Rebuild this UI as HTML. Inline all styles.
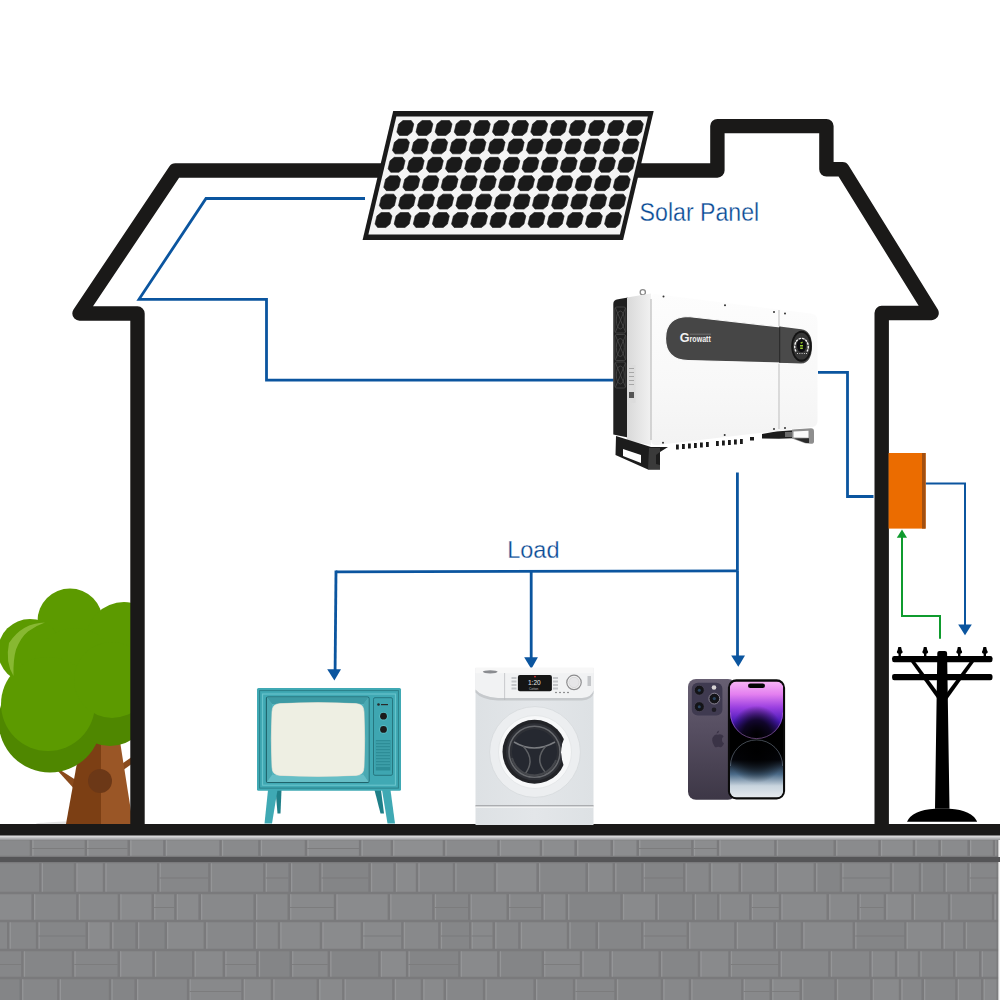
<!DOCTYPE html>
<html><head><meta charset="utf-8">
<style>
html,body{margin:0;padding:0;background:#fff;width:1000px;height:1000px;overflow:hidden}
svg{display:block}
text{font-family:"Liberation Sans",sans-serif}
</style></head>
<body>
<svg width="1000" height="1000" viewBox="0 0 1000 1000">
<defs>
<linearGradient id="invSide" x1="0" y1="0" x2="1" y2="0"><stop offset="0" stop-color="#d9d9d9"/><stop offset="1" stop-color="#f1f1f1"/></linearGradient>
<linearGradient id="invFront" x1="0" y1="0" x2="0" y2="1"><stop offset="0" stop-color="#fdfdfd"/><stop offset="0.6" stop-color="#f8f8f8"/><stop offset="1" stop-color="#f3f3f3"/></linearGradient>
<linearGradient id="wBody" x1="0" y1="0" x2="1" y2="0"><stop offset="0" stop-color="#dde1e4"/><stop offset="0.5" stop-color="#e3e6e9"/><stop offset="1" stop-color="#dde1e4"/></linearGradient>
<linearGradient id="phBack" x1="0" y1="0" x2="0" y2="1"><stop offset="0" stop-color="#675f72"/><stop offset="0.45" stop-color="#554d60"/><stop offset="1" stop-color="#3d3746"/></linearGradient>
<linearGradient id="scrTop" x1="0" y1="0" x2="0" y2="1"><stop offset="0" stop-color="#f8b4f6"/><stop offset="0.22" stop-color="#e480f0"/><stop offset="0.45" stop-color="#9a40e0"/><stop offset="0.7" stop-color="#4818b8"/><stop offset="1" stop-color="#100530"/></linearGradient>
<radialGradient id="scrTopR" cx="0.5" cy="0.92" r="0.5"><stop offset="0" stop-color="#000" stop-opacity="1"/><stop offset="0.5" stop-color="#000" stop-opacity="0.75"/><stop offset="1" stop-color="#000" stop-opacity="0"/></radialGradient>
<linearGradient id="scrBot" x1="0" y1="0" x2="0" y2="1"><stop offset="0" stop-color="#000"/><stop offset="0.35" stop-color="#05060c"/><stop offset="0.6" stop-color="#4a6a88"/><stop offset="0.8" stop-color="#c8d4de"/><stop offset="1" stop-color="#e6eaee"/></linearGradient>
<radialGradient id="scrBotR" cx="0.5" cy="0.2" r="0.55"><stop offset="0" stop-color="#000" stop-opacity="1"/><stop offset="0.6" stop-color="#000" stop-opacity="0.5"/><stop offset="1" stop-color="#000" stop-opacity="0"/></radialGradient>
<linearGradient id="wallTop" x1="0" y1="0" x2="0" y2="1"><stop offset="0" stop-color="#ececec"/><stop offset="0.4" stop-color="#d0d0d2"/><stop offset="1" stop-color="#949597"/></linearGradient>
<filter id="wblur" x="0" y="0" width="1" height="1"><feGaussianBlur stdDeviation="0.7"/></filter>
</defs>
<rect width="1000" height="1000" fill="#fff"/>

<!-- STONE WALL -->
<g id="wall">
<rect x="0" y="835" width="1000" height="165" fill="#7a7a7c"/>
<g filter="url(#wblur)"><rect x="-12.3" y="840.3" width="42.0" height="15.4" fill="#898a8c"/><rect x="-12.3" y="840.3" width="1.3" height="15.4" fill="#98999b"/><rect x="32.3" y="840.3" width="52.3" height="15.4" fill="#8a8b8d"/><rect x="32.3" y="840.3" width="1.3" height="15.4" fill="#98999b"/><rect x="32.3" y="848.0" width="52.3" height="1" fill="#7b7b7d"/><rect x="87.2" y="840.3" width="40.3" height="15.4" fill="#8a8b8d"/><rect x="87.2" y="840.3" width="1.3" height="15.4" fill="#98999b"/><rect x="87.2" y="848.0" width="40.3" height="1" fill="#7b7b7d"/><rect x="130.2" y="840.3" width="33.0" height="15.4" fill="#8c8d8f"/><rect x="130.2" y="840.3" width="1.3" height="15.4" fill="#98999b"/><rect x="165.8" y="840.3" width="53.6" height="15.4" fill="#8c8d8f"/><rect x="165.8" y="840.3" width="1.3" height="15.4" fill="#98999b"/><rect x="221.9" y="840.3" width="36.3" height="15.4" fill="#898a8c"/><rect x="221.9" y="840.3" width="1.3" height="15.4" fill="#98999b"/><rect x="260.8" y="840.3" width="43.9" height="15.4" fill="#8a8b8d"/><rect x="260.8" y="840.3" width="1.3" height="15.4" fill="#98999b"/><rect x="307.4" y="840.3" width="51.5" height="15.4" fill="#8c8d8f"/><rect x="307.4" y="840.3" width="1.3" height="15.4" fill="#98999b"/><rect x="307.4" y="848.0" width="51.5" height="1" fill="#7b7b7d"/><rect x="361.5" y="840.3" width="29.1" height="15.4" fill="#8a8b8d"/><rect x="361.5" y="840.3" width="1.3" height="15.4" fill="#98999b"/><rect x="393.1" y="840.3" width="49.6" height="15.4" fill="#8e8f91"/><rect x="393.1" y="840.3" width="1.3" height="15.4" fill="#98999b"/><rect x="445.4" y="840.3" width="51.9" height="15.4" fill="#8a8b8d"/><rect x="445.4" y="840.3" width="1.3" height="15.4" fill="#98999b"/><rect x="499.8" y="840.3" width="39.9" height="15.4" fill="#8c8d8f"/><rect x="499.8" y="840.3" width="1.3" height="15.4" fill="#98999b"/><rect x="542.3" y="840.3" width="32.1" height="15.4" fill="#8c8d8f"/><rect x="542.3" y="840.3" width="1.3" height="15.4" fill="#98999b"/><rect x="577.1" y="840.3" width="33.4" height="15.4" fill="#8a8b8d"/><rect x="577.1" y="840.3" width="1.3" height="15.4" fill="#98999b"/><rect x="613.1" y="840.3" width="23.4" height="15.4" fill="#8c8d8f"/><rect x="613.1" y="840.3" width="1.3" height="15.4" fill="#98999b"/><rect x="639.1" y="840.3" width="52.0" height="15.4" fill="#898a8c"/><rect x="639.1" y="840.3" width="1.3" height="15.4" fill="#98999b"/><rect x="639.1" y="848.0" width="52.0" height="1" fill="#7b7b7d"/><rect x="693.8" y="840.3" width="23.0" height="15.4" fill="#8c8d8f"/><rect x="693.8" y="840.3" width="1.3" height="15.4" fill="#98999b"/><rect x="693.8" y="848.0" width="23.0" height="1" fill="#7b7b7d"/><rect x="719.4" y="840.3" width="54.8" height="15.4" fill="#8c8d8f"/><rect x="719.4" y="840.3" width="1.3" height="15.4" fill="#98999b"/><rect x="776.8" y="840.3" width="56.7" height="15.4" fill="#898a8c"/><rect x="776.8" y="840.3" width="1.3" height="15.4" fill="#98999b"/><rect x="836.1" y="840.3" width="42.2" height="15.4" fill="#8a8b8d"/><rect x="836.1" y="840.3" width="1.3" height="15.4" fill="#98999b"/><rect x="880.9" y="840.3" width="31.8" height="15.4" fill="#8c8d8f"/><rect x="880.9" y="840.3" width="1.3" height="15.4" fill="#98999b"/><rect x="915.4" y="840.3" width="22.9" height="15.4" fill="#898a8c"/><rect x="915.4" y="840.3" width="1.3" height="15.4" fill="#98999b"/><rect x="940.9" y="840.3" width="26.5" height="15.4" fill="#8a8b8d"/><rect x="940.9" y="840.3" width="1.3" height="15.4" fill="#98999b"/><rect x="970.0" y="840.3" width="22.8" height="15.4" fill="#898a8c"/><rect x="970.0" y="840.3" width="1.3" height="15.4" fill="#98999b"/><rect x="995.4" y="840.3" width="28.6" height="15.4" fill="#8a8b8d"/><rect x="995.4" y="840.3" width="1.3" height="15.4" fill="#98999b"/><rect x="-4.4" y="863.3" width="43.6" height="28.4" fill="#868789"/><rect x="-4.4" y="863.3" width="1.3" height="28.4" fill="#949597"/><rect x="41.7" y="863.3" width="32.1" height="28.4" fill="#848587"/><rect x="41.7" y="863.3" width="1.3" height="28.4" fill="#949597"/><rect x="76.4" y="863.3" width="26.4" height="28.4" fill="#8a8b8d"/><rect x="76.4" y="863.3" width="1.3" height="28.4" fill="#949597"/><rect x="105.4" y="863.3" width="51.6" height="28.4" fill="#87888a"/><rect x="105.4" y="863.3" width="1.3" height="28.4" fill="#949597"/><rect x="159.6" y="863.3" width="48.6" height="28.4" fill="#868789"/><rect x="159.6" y="863.3" width="1.3" height="28.4" fill="#949597"/><rect x="159.6" y="877.5" width="48.6" height="1" fill="#7b7b7d"/><rect x="210.8" y="863.3" width="52.3" height="28.4" fill="#87888a"/><rect x="210.8" y="863.3" width="1.3" height="28.4" fill="#949597"/><rect x="265.7" y="863.3" width="22.7" height="28.4" fill="#868789"/><rect x="265.7" y="863.3" width="1.3" height="28.4" fill="#949597"/><rect x="265.7" y="877.5" width="22.7" height="1" fill="#7b7b7d"/><rect x="291.0" y="863.3" width="27.9" height="28.4" fill="#858688"/><rect x="291.0" y="863.3" width="1.3" height="28.4" fill="#949597"/><rect x="321.5" y="863.3" width="46.8" height="28.4" fill="#848587"/><rect x="321.5" y="863.3" width="1.3" height="28.4" fill="#949597"/><rect x="321.5" y="877.5" width="46.8" height="1" fill="#7b7b7d"/><rect x="370.9" y="863.3" width="22.4" height="28.4" fill="#87888a"/><rect x="370.9" y="863.3" width="1.3" height="28.4" fill="#949597"/><rect x="395.9" y="863.3" width="19.9" height="28.4" fill="#8a8b8d"/><rect x="395.9" y="863.3" width="1.3" height="28.4" fill="#949597"/><rect x="418.4" y="863.3" width="34.4" height="28.4" fill="#87888a"/><rect x="418.4" y="863.3" width="1.3" height="28.4" fill="#949597"/><rect x="455.3" y="863.3" width="38.4" height="28.4" fill="#858688"/><rect x="455.3" y="863.3" width="1.3" height="28.4" fill="#949597"/><rect x="496.3" y="863.3" width="40.1" height="28.4" fill="#8a8b8d"/><rect x="496.3" y="863.3" width="1.3" height="28.4" fill="#949597"/><rect x="539.0" y="863.3" width="46.4" height="28.4" fill="#868789"/><rect x="539.0" y="863.3" width="1.3" height="28.4" fill="#949597"/><rect x="588.0" y="863.3" width="24.6" height="28.4" fill="#898a8c"/><rect x="588.0" y="863.3" width="1.3" height="28.4" fill="#949597"/><rect x="615.2" y="863.3" width="25.9" height="28.4" fill="#848587"/><rect x="615.2" y="863.3" width="1.3" height="28.4" fill="#949597"/><rect x="643.7" y="863.3" width="39.3" height="28.4" fill="#848587"/><rect x="643.7" y="863.3" width="1.3" height="28.4" fill="#949597"/><rect x="643.7" y="877.5" width="39.3" height="1" fill="#7b7b7d"/><rect x="685.6" y="863.3" width="23.0" height="28.4" fill="#87888a"/><rect x="685.6" y="863.3" width="1.3" height="28.4" fill="#949597"/><rect x="711.2" y="863.3" width="27.3" height="28.4" fill="#898a8c"/><rect x="711.2" y="863.3" width="1.3" height="28.4" fill="#949597"/><rect x="741.1" y="863.3" width="33.3" height="28.4" fill="#87888a"/><rect x="741.1" y="863.3" width="1.3" height="28.4" fill="#949597"/><rect x="777.0" y="863.3" width="36.6" height="28.4" fill="#898a8c"/><rect x="777.0" y="863.3" width="1.3" height="28.4" fill="#949597"/><rect x="816.1" y="863.3" width="23.6" height="28.4" fill="#848587"/><rect x="816.1" y="863.3" width="1.3" height="28.4" fill="#949597"/><rect x="842.3" y="863.3" width="47.5" height="28.4" fill="#87888a"/><rect x="842.3" y="863.3" width="1.3" height="28.4" fill="#949597"/><rect x="842.3" y="877.5" width="47.5" height="1" fill="#7b7b7d"/><rect x="892.4" y="863.3" width="26.4" height="28.4" fill="#868789"/><rect x="892.4" y="863.3" width="1.3" height="28.4" fill="#949597"/><rect x="921.4" y="863.3" width="21.7" height="28.4" fill="#848587"/><rect x="921.4" y="863.3" width="1.3" height="28.4" fill="#949597"/><rect x="945.7" y="863.3" width="21.4" height="28.4" fill="#868789"/><rect x="945.7" y="863.3" width="1.3" height="28.4" fill="#949597"/><rect x="969.7" y="863.3" width="36.9" height="28.4" fill="#868789"/><rect x="969.7" y="863.3" width="1.3" height="28.4" fill="#949597"/><rect x="969.7" y="877.5" width="36.9" height="1" fill="#7b7b7d"/><rect x="-2.9" y="894.3" width="34.3" height="25.4" fill="#8a8b8d"/><rect x="-2.9" y="894.3" width="1.3" height="25.4" fill="#949597"/><rect x="34.0" y="894.3" width="42.2" height="25.4" fill="#87888a"/><rect x="34.0" y="894.3" width="1.3" height="25.4" fill="#949597"/><rect x="78.8" y="894.3" width="38.9" height="25.4" fill="#88898b"/><rect x="78.8" y="894.3" width="1.3" height="25.4" fill="#949597"/><rect x="120.3" y="894.3" width="31.2" height="25.4" fill="#8a8b8d"/><rect x="120.3" y="894.3" width="1.3" height="25.4" fill="#949597"/><rect x="154.1" y="894.3" width="20.1" height="25.4" fill="#898a8c"/><rect x="154.1" y="894.3" width="1.3" height="25.4" fill="#949597"/><rect x="154.1" y="907.0" width="20.1" height="1" fill="#7b7b7d"/><rect x="176.8" y="894.3" width="21.6" height="25.4" fill="#8a8b8d"/><rect x="176.8" y="894.3" width="1.3" height="25.4" fill="#949597"/><rect x="201.0" y="894.3" width="52.4" height="25.4" fill="#88898b"/><rect x="201.0" y="894.3" width="1.3" height="25.4" fill="#949597"/><rect x="256.0" y="894.3" width="31.5" height="25.4" fill="#88898b"/><rect x="256.0" y="894.3" width="1.3" height="25.4" fill="#949597"/><rect x="290.1" y="894.3" width="43.7" height="25.4" fill="#898a8c"/><rect x="290.1" y="894.3" width="1.3" height="25.4" fill="#949597"/><rect x="290.1" y="907.0" width="43.7" height="1" fill="#7b7b7d"/><rect x="336.4" y="894.3" width="51.2" height="25.4" fill="#8a8b8d"/><rect x="336.4" y="894.3" width="1.3" height="25.4" fill="#949597"/><rect x="390.2" y="894.3" width="42.0" height="25.4" fill="#88898b"/><rect x="390.2" y="894.3" width="1.3" height="25.4" fill="#949597"/><rect x="434.8" y="894.3" width="33.2" height="25.4" fill="#858688"/><rect x="434.8" y="894.3" width="1.3" height="25.4" fill="#949597"/><rect x="434.8" y="907.0" width="33.2" height="1" fill="#7b7b7d"/><rect x="470.6" y="894.3" width="35.9" height="25.4" fill="#88898b"/><rect x="470.6" y="894.3" width="1.3" height="25.4" fill="#949597"/><rect x="509.1" y="894.3" width="32.0" height="25.4" fill="#87888a"/><rect x="509.1" y="894.3" width="1.3" height="25.4" fill="#949597"/><rect x="509.1" y="907.0" width="32.0" height="1" fill="#7b7b7d"/><rect x="543.7" y="894.3" width="21.8" height="25.4" fill="#88898b"/><rect x="543.7" y="894.3" width="1.3" height="25.4" fill="#949597"/><rect x="568.1" y="894.3" width="52.2" height="25.4" fill="#848587"/><rect x="568.1" y="894.3" width="1.3" height="25.4" fill="#949597"/><rect x="622.9" y="894.3" width="32.2" height="25.4" fill="#898a8c"/><rect x="622.9" y="894.3" width="1.3" height="25.4" fill="#949597"/><rect x="657.7" y="894.3" width="34.5" height="25.4" fill="#848587"/><rect x="657.7" y="894.3" width="1.3" height="25.4" fill="#949597"/><rect x="694.8" y="894.3" width="22.2" height="25.4" fill="#858688"/><rect x="694.8" y="894.3" width="1.3" height="25.4" fill="#949597"/><rect x="719.6" y="894.3" width="29.6" height="25.4" fill="#88898b"/><rect x="719.6" y="894.3" width="1.3" height="25.4" fill="#949597"/><rect x="751.8" y="894.3" width="27.0" height="25.4" fill="#898a8c"/><rect x="751.8" y="894.3" width="1.3" height="25.4" fill="#949597"/><rect x="751.8" y="907.0" width="27.0" height="1" fill="#7b7b7d"/><rect x="781.4" y="894.3" width="45.1" height="25.4" fill="#898a8c"/><rect x="781.4" y="894.3" width="1.3" height="25.4" fill="#949597"/><rect x="829.2" y="894.3" width="27.8" height="25.4" fill="#88898b"/><rect x="829.2" y="894.3" width="1.3" height="25.4" fill="#949597"/><rect x="859.6" y="894.3" width="24.1" height="25.4" fill="#87888a"/><rect x="859.6" y="894.3" width="1.3" height="25.4" fill="#949597"/><rect x="859.6" y="907.0" width="24.1" height="1" fill="#7b7b7d"/><rect x="886.3" y="894.3" width="25.0" height="25.4" fill="#8a8b8d"/><rect x="886.3" y="894.3" width="1.3" height="25.4" fill="#949597"/><rect x="913.9" y="894.3" width="34.0" height="25.4" fill="#868789"/><rect x="913.9" y="894.3" width="1.3" height="25.4" fill="#949597"/><rect x="950.5" y="894.3" width="41.4" height="25.4" fill="#868789"/><rect x="950.5" y="894.3" width="1.3" height="25.4" fill="#949597"/><rect x="994.5" y="894.3" width="45.9" height="25.4" fill="#858688"/><rect x="994.5" y="894.3" width="1.3" height="25.4" fill="#949597"/><rect x="-25.1" y="922.3" width="32.1" height="26.4" fill="#87888a"/><rect x="-25.1" y="922.3" width="1.3" height="26.4" fill="#949597"/><rect x="9.6" y="922.3" width="26.3" height="26.4" fill="#868789"/><rect x="9.6" y="922.3" width="1.3" height="26.4" fill="#949597"/><rect x="38.5" y="922.3" width="47.0" height="26.4" fill="#858688"/><rect x="38.5" y="922.3" width="1.3" height="26.4" fill="#949597"/><rect x="38.5" y="935.5" width="47.0" height="1" fill="#7b7b7d"/><rect x="88.1" y="922.3" width="21.5" height="26.4" fill="#8a8b8d"/><rect x="88.1" y="922.3" width="1.3" height="26.4" fill="#949597"/><rect x="112.2" y="922.3" width="23.1" height="26.4" fill="#848587"/><rect x="112.2" y="922.3" width="1.3" height="26.4" fill="#949597"/><rect x="138.0" y="922.3" width="26.5" height="26.4" fill="#848587"/><rect x="138.0" y="922.3" width="1.3" height="26.4" fill="#949597"/><rect x="167.0" y="922.3" width="36.6" height="26.4" fill="#898a8c"/><rect x="167.0" y="922.3" width="1.3" height="26.4" fill="#949597"/><rect x="206.2" y="922.3" width="47.1" height="26.4" fill="#87888a"/><rect x="206.2" y="922.3" width="1.3" height="26.4" fill="#949597"/><rect x="255.9" y="922.3" width="21.9" height="26.4" fill="#88898b"/><rect x="255.9" y="922.3" width="1.3" height="26.4" fill="#949597"/><rect x="280.3" y="922.3" width="39.4" height="26.4" fill="#898a8c"/><rect x="280.3" y="922.3" width="1.3" height="26.4" fill="#949597"/><rect x="322.4" y="922.3" width="38.2" height="26.4" fill="#8a8b8d"/><rect x="322.4" y="922.3" width="1.3" height="26.4" fill="#949597"/><rect x="363.2" y="922.3" width="38.0" height="26.4" fill="#898a8c"/><rect x="363.2" y="922.3" width="1.3" height="26.4" fill="#949597"/><rect x="363.2" y="935.5" width="38.0" height="1" fill="#7b7b7d"/><rect x="403.8" y="922.3" width="34.4" height="26.4" fill="#88898b"/><rect x="403.8" y="922.3" width="1.3" height="26.4" fill="#949597"/><rect x="440.8" y="922.3" width="28.2" height="26.4" fill="#858688"/><rect x="440.8" y="922.3" width="1.3" height="26.4" fill="#949597"/><rect x="440.8" y="935.5" width="28.2" height="1" fill="#7b7b7d"/><rect x="471.6" y="922.3" width="20.9" height="26.4" fill="#898a8c"/><rect x="471.6" y="922.3" width="1.3" height="26.4" fill="#949597"/><rect x="471.6" y="935.5" width="20.9" height="1" fill="#7b7b7d"/><rect x="495.2" y="922.3" width="23.0" height="26.4" fill="#87888a"/><rect x="495.2" y="922.3" width="1.3" height="26.4" fill="#949597"/><rect x="520.8" y="922.3" width="46.0" height="26.4" fill="#88898b"/><rect x="520.8" y="922.3" width="1.3" height="26.4" fill="#949597"/><rect x="569.4" y="922.3" width="26.0" height="26.4" fill="#848587"/><rect x="569.4" y="922.3" width="1.3" height="26.4" fill="#949597"/><rect x="598.0" y="922.3" width="43.0" height="26.4" fill="#858688"/><rect x="598.0" y="922.3" width="1.3" height="26.4" fill="#949597"/><rect x="643.6" y="922.3" width="43.0" height="26.4" fill="#868789"/><rect x="643.6" y="922.3" width="1.3" height="26.4" fill="#949597"/><rect x="643.6" y="935.5" width="43.0" height="1" fill="#7b7b7d"/><rect x="689.1" y="922.3" width="45.1" height="26.4" fill="#87888a"/><rect x="689.1" y="922.3" width="1.3" height="26.4" fill="#949597"/><rect x="736.8" y="922.3" width="36.6" height="26.4" fill="#87888a"/><rect x="736.8" y="922.3" width="1.3" height="26.4" fill="#949597"/><rect x="776.0" y="922.3" width="24.7" height="26.4" fill="#858688"/><rect x="776.0" y="922.3" width="1.3" height="26.4" fill="#949597"/><rect x="803.3" y="922.3" width="49.3" height="26.4" fill="#88898b"/><rect x="803.3" y="922.3" width="1.3" height="26.4" fill="#949597"/><rect x="855.2" y="922.3" width="48.9" height="26.4" fill="#848587"/><rect x="855.2" y="922.3" width="1.3" height="26.4" fill="#949597"/><rect x="855.2" y="935.5" width="48.9" height="1" fill="#7b7b7d"/><rect x="906.6" y="922.3" width="34.4" height="26.4" fill="#898a8c"/><rect x="906.6" y="922.3" width="1.3" height="26.4" fill="#949597"/><rect x="943.6" y="922.3" width="19.6" height="26.4" fill="#87888a"/><rect x="943.6" y="922.3" width="1.3" height="26.4" fill="#949597"/><rect x="965.8" y="922.3" width="48.4" height="26.4" fill="#858688"/><rect x="965.8" y="922.3" width="1.3" height="26.4" fill="#949597"/><rect x="-9.0" y="951.3" width="30.2" height="25.4" fill="#868789"/><rect x="-9.0" y="951.3" width="1.3" height="25.4" fill="#949597"/><rect x="-9.0" y="964.0" width="30.2" height="1" fill="#7b7b7d"/><rect x="23.8" y="951.3" width="48.0" height="25.4" fill="#858688"/><rect x="23.8" y="951.3" width="1.3" height="25.4" fill="#949597"/><rect x="74.4" y="951.3" width="43.1" height="25.4" fill="#868789"/><rect x="74.4" y="951.3" width="1.3" height="25.4" fill="#949597"/><rect x="74.4" y="964.0" width="43.1" height="1" fill="#7b7b7d"/><rect x="120.0" y="951.3" width="32.3" height="25.4" fill="#88898b"/><rect x="120.0" y="951.3" width="1.3" height="25.4" fill="#949597"/><rect x="154.9" y="951.3" width="37.1" height="25.4" fill="#858688"/><rect x="154.9" y="951.3" width="1.3" height="25.4" fill="#949597"/><rect x="194.6" y="951.3" width="28.0" height="25.4" fill="#898a8c"/><rect x="194.6" y="951.3" width="1.3" height="25.4" fill="#949597"/><rect x="225.3" y="951.3" width="30.9" height="25.4" fill="#88898b"/><rect x="225.3" y="951.3" width="1.3" height="25.4" fill="#949597"/><rect x="225.3" y="964.0" width="30.9" height="1" fill="#7b7b7d"/><rect x="258.8" y="951.3" width="30.7" height="25.4" fill="#848587"/><rect x="258.8" y="951.3" width="1.3" height="25.4" fill="#949597"/><rect x="292.1" y="951.3" width="35.5" height="25.4" fill="#88898b"/><rect x="292.1" y="951.3" width="1.3" height="25.4" fill="#949597"/><rect x="292.1" y="964.0" width="35.5" height="1" fill="#7b7b7d"/><rect x="330.2" y="951.3" width="48.0" height="25.4" fill="#848587"/><rect x="330.2" y="951.3" width="1.3" height="25.4" fill="#949597"/><rect x="380.8" y="951.3" width="25.1" height="25.4" fill="#8a8b8d"/><rect x="380.8" y="951.3" width="1.3" height="25.4" fill="#949597"/><rect x="408.5" y="951.3" width="49.6" height="25.4" fill="#848587"/><rect x="408.5" y="951.3" width="1.3" height="25.4" fill="#949597"/><rect x="408.5" y="964.0" width="49.6" height="1" fill="#7b7b7d"/><rect x="460.7" y="951.3" width="36.4" height="25.4" fill="#898a8c"/><rect x="460.7" y="951.3" width="1.3" height="25.4" fill="#949597"/><rect x="499.8" y="951.3" width="41.8" height="25.4" fill="#848587"/><rect x="499.8" y="951.3" width="1.3" height="25.4" fill="#949597"/><rect x="544.1" y="951.3" width="35.7" height="25.4" fill="#898a8c"/><rect x="544.1" y="951.3" width="1.3" height="25.4" fill="#949597"/><rect x="544.1" y="964.0" width="35.7" height="1" fill="#7b7b7d"/><rect x="582.4" y="951.3" width="26.7" height="25.4" fill="#87888a"/><rect x="582.4" y="951.3" width="1.3" height="25.4" fill="#949597"/><rect x="611.7" y="951.3" width="46.8" height="25.4" fill="#87888a"/><rect x="611.7" y="951.3" width="1.3" height="25.4" fill="#949597"/><rect x="661.1" y="951.3" width="36.7" height="25.4" fill="#858688"/><rect x="661.1" y="951.3" width="1.3" height="25.4" fill="#949597"/><rect x="700.4" y="951.3" width="27.9" height="25.4" fill="#898a8c"/><rect x="700.4" y="951.3" width="1.3" height="25.4" fill="#949597"/><rect x="730.8" y="951.3" width="47.3" height="25.4" fill="#87888a"/><rect x="730.8" y="951.3" width="1.3" height="25.4" fill="#949597"/><rect x="730.8" y="964.0" width="47.3" height="1" fill="#7b7b7d"/><rect x="780.7" y="951.3" width="47.5" height="25.4" fill="#87888a"/><rect x="780.7" y="951.3" width="1.3" height="25.4" fill="#949597"/><rect x="830.8" y="951.3" width="38.3" height="25.4" fill="#868789"/><rect x="830.8" y="951.3" width="1.3" height="25.4" fill="#949597"/><rect x="871.7" y="951.3" width="23.2" height="25.4" fill="#88898b"/><rect x="871.7" y="951.3" width="1.3" height="25.4" fill="#949597"/><rect x="897.5" y="951.3" width="20.3" height="25.4" fill="#88898b"/><rect x="897.5" y="951.3" width="1.3" height="25.4" fill="#949597"/><rect x="920.4" y="951.3" width="32.6" height="25.4" fill="#858688"/><rect x="920.4" y="951.3" width="1.3" height="25.4" fill="#949597"/><rect x="955.6" y="951.3" width="23.4" height="25.4" fill="#88898b"/><rect x="955.6" y="951.3" width="1.3" height="25.4" fill="#949597"/><rect x="981.7" y="951.3" width="21.6" height="25.4" fill="#87888a"/><rect x="981.7" y="951.3" width="1.3" height="25.4" fill="#949597"/><rect x="-26.3" y="979.3" width="45.8" height="23.4" fill="#848587"/><rect x="-26.3" y="979.3" width="1.3" height="23.4" fill="#949597"/><rect x="22.1" y="979.3" width="35.0" height="23.4" fill="#868789"/><rect x="22.1" y="979.3" width="1.3" height="23.4" fill="#949597"/><rect x="59.7" y="979.3" width="49.1" height="23.4" fill="#848587"/><rect x="59.7" y="979.3" width="1.3" height="23.4" fill="#949597"/><rect x="111.4" y="979.3" width="23.0" height="23.4" fill="#848587"/><rect x="111.4" y="979.3" width="1.3" height="23.4" fill="#949597"/><rect x="137.0" y="979.3" width="49.9" height="23.4" fill="#868789"/><rect x="137.0" y="979.3" width="1.3" height="23.4" fill="#949597"/><rect x="189.6" y="979.3" width="51.7" height="23.4" fill="#88898b"/><rect x="189.6" y="979.3" width="1.3" height="23.4" fill="#949597"/><rect x="189.6" y="991.0" width="51.7" height="1" fill="#7b7b7d"/><rect x="243.8" y="979.3" width="26.9" height="23.4" fill="#898a8c"/><rect x="243.8" y="979.3" width="1.3" height="23.4" fill="#949597"/><rect x="273.3" y="979.3" width="43.3" height="23.4" fill="#868789"/><rect x="273.3" y="979.3" width="1.3" height="23.4" fill="#949597"/><rect x="319.2" y="979.3" width="22.9" height="23.4" fill="#898a8c"/><rect x="319.2" y="979.3" width="1.3" height="23.4" fill="#949597"/><rect x="344.6" y="979.3" width="47.5" height="23.4" fill="#87888a"/><rect x="344.6" y="979.3" width="1.3" height="23.4" fill="#949597"/><rect x="394.8" y="979.3" width="25.9" height="23.4" fill="#87888a"/><rect x="394.8" y="979.3" width="1.3" height="23.4" fill="#949597"/><rect x="423.3" y="979.3" width="20.2" height="23.4" fill="#898a8c"/><rect x="423.3" y="979.3" width="1.3" height="23.4" fill="#949597"/><rect x="446.0" y="979.3" width="36.9" height="23.4" fill="#868789"/><rect x="446.0" y="979.3" width="1.3" height="23.4" fill="#949597"/><rect x="485.5" y="979.3" width="47.9" height="23.4" fill="#87888a"/><rect x="485.5" y="979.3" width="1.3" height="23.4" fill="#949597"/><rect x="536.0" y="979.3" width="36.9" height="23.4" fill="#858688"/><rect x="536.0" y="979.3" width="1.3" height="23.4" fill="#949597"/><rect x="575.5" y="979.3" width="38.8" height="23.4" fill="#868789"/><rect x="575.5" y="979.3" width="1.3" height="23.4" fill="#949597"/><rect x="575.5" y="991.0" width="38.8" height="1" fill="#7b7b7d"/><rect x="616.9" y="979.3" width="43.8" height="23.4" fill="#858688"/><rect x="616.9" y="979.3" width="1.3" height="23.4" fill="#949597"/><rect x="663.3" y="979.3" width="25.4" height="23.4" fill="#87888a"/><rect x="663.3" y="979.3" width="1.3" height="23.4" fill="#949597"/><rect x="691.3" y="979.3" width="49.9" height="23.4" fill="#868789"/><rect x="691.3" y="979.3" width="1.3" height="23.4" fill="#949597"/><rect x="743.7" y="979.3" width="25.8" height="23.4" fill="#88898b"/><rect x="743.7" y="979.3" width="1.3" height="23.4" fill="#949597"/><rect x="743.7" y="991.0" width="25.8" height="1" fill="#7b7b7d"/><rect x="772.2" y="979.3" width="27.3" height="23.4" fill="#898a8c"/><rect x="772.2" y="979.3" width="1.3" height="23.4" fill="#949597"/><rect x="772.2" y="991.0" width="27.3" height="1" fill="#7b7b7d"/><rect x="802.1" y="979.3" width="32.2" height="23.4" fill="#848587"/><rect x="802.1" y="979.3" width="1.3" height="23.4" fill="#949597"/><rect x="836.9" y="979.3" width="33.3" height="23.4" fill="#858688"/><rect x="836.9" y="979.3" width="1.3" height="23.4" fill="#949597"/><rect x="872.8" y="979.3" width="26.0" height="23.4" fill="#898a8c"/><rect x="872.8" y="979.3" width="1.3" height="23.4" fill="#949597"/><rect x="901.4" y="979.3" width="20.0" height="23.4" fill="#868789"/><rect x="901.4" y="979.3" width="1.3" height="23.4" fill="#949597"/><rect x="924.0" y="979.3" width="31.2" height="23.4" fill="#858688"/><rect x="924.0" y="979.3" width="1.3" height="23.4" fill="#949597"/><rect x="957.8" y="979.3" width="23.2" height="23.4" fill="#87888a"/><rect x="957.8" y="979.3" width="1.3" height="23.4" fill="#949597"/><rect x="983.6" y="979.3" width="30.7" height="23.4" fill="#898a8c"/><rect x="983.6" y="979.3" width="1.3" height="23.4" fill="#949597"/></g>
<rect x="996.5" y="838" width="2" height="162" fill="#747476" opacity="0.6"/>
<rect x="998.4" y="835.5" width="1.6" height="164.5" fill="#f2f2f2"/>
<rect x="0" y="857" width="1000" height="5" fill="#555557"/>
<rect x="0" y="835" width="1000" height="5" fill="url(#wallTop)"/>
</g>

<!-- TREE -->
<clipPath id="treeClip"><rect x="0" y="560" width="131" height="265"/></clipPath>
<g id="tree" clip-path="url(#treeClip)">
<ellipse cx="98" cy="824" rx="62" ry="3" fill="#e2e2e2"/>
<path d="M57,770 L59.5,769.5 L82,784 L81,795 L77,792 Z" fill="#8a4a1c"/>
<path d="M116,768 L131,757.5 L133,763 L119,773 Z" fill="#8a4a1c"/>
<path d="M82,735 H101 V824 H66 Z" fill="#7c3f14"/>
<path d="M101,735 H119 L133,824 H101 Z" fill="#9a5626"/>
<circle cx="100" cy="781" r="12" fill="#6c3817"/>
<g fill="#4f8700">
<circle cx="50" cy="721" r="51.5"/>
<circle cx="110" cy="706" r="40"/>
</g>
<g fill="#5c9a00">
<circle cx="70" cy="621" r="32.5"/>
<circle cx="124" cy="640" r="38"/>
<circle cx="30" cy="651" r="32"/>
<circle cx="75" cy="670" r="42"/>
<circle cx="48" cy="704" r="47"/>
<circle cx="112" cy="680" r="38"/>
</g>
<path d="M45,622.5 Q22,623 9,643 Q5,662 13.5,676 Q13,660 16,649.5 Q21,637 28,631.5 Q36,625.5 45,622.5 Z" fill="#88b832"/>
</g>

<!-- HOUSE OUTLINE -->
<path d="M137.5,826 V313.5 H79.5 L175.3,170.5 H717.4 V126.1 H826.4 V169.3 H842.5 L931.6,313 H881.7 V826"
 fill="none" stroke="#1a1918" stroke-width="14.4" stroke-linejoin="round"/>
<!-- ground line -->
<rect x="0" y="824" width="1000" height="11.5" fill="#1a1918"/>

<!-- BLUE WIRES -->
<g fill="none" stroke="#0b559f" stroke-width="2.8">
<path d="M365,198.5 H206 L139,299.3 H266.5 V380.2 H613.5"/>
<path d="M818,372.4 H847.5 V496.5 H873.5"/>
<path d="M925.6,483.6 H965 V625" stroke-width="2"/>
<path d="M737.4,472.5 V570.9"/>
<path d="M336,571.8 L737.4,570.9" />
<path d="M336,570.5 L335.1,670"/>
<path d="M531.2,571.3 V658"/>
<path d="M737.5,570.9 V656"/>
</g>
<g fill="#0b559f">
<path d="M958.2,624.4 H971.8 L965,635.2 Z"/>
<path d="M327.2,669.3 H341 L334.4,680.5 Z"/>
<path d="M524.2,657.2 H537.9 L531.3,669 Z"/>
<path d="M731.2,655.4 H745 L738.3,666.8 Z"/>
</g>
<!-- green wire -->
<path d="M940,638.8 V615.9 H902 V536" fill="none" stroke="#0f9b2e" stroke-width="2"/>
<path d="M896.8,537.7 H907 L902,529.6 Z" fill="#0f9b2e"/>

<!-- UTILITY POLE -->
<g id="pole" fill="#000">
<rect x="892.1" y="656.1" width="100.4" height="6.1" rx="2.2"/>
<rect x="892.1" y="673.9" width="100.4" height="6.3" rx="2.2"/>
<path d="M937.3,653 Q937.3,650.9 939.5,650.9 H944.9 Q947.1,650.9 947.1,653 L949.5,808.7 H935 Z"/>
<path d="M907,821.8 Q912,810 935,808.7 H949.5 Q972,810 977.2,821.8 Z"/>
<path d="M910.3,661 L914.6,661 L938,692.5 L938,699.5 Z"/>
<path d="M974.7,661 L970.4,661 L947,692.5 L947,699.5 Z"/>
<g id="ins">
<path d="M898.3,647.1 H901.1 L901.8,650.3 Q902.8,651 902.6,652.6 Q902.2,653.7 900.9,653.7 V656.5 H898.5 V653.7 Q897.2,653.7 896.9,652.6 Q896.7,651 897.6,650.3 Z"/>
</g>
<use href="#ins" x="25.5"/>
<use href="#ins" x="59.5"/>
<use href="#ins" x="85.1"/>
</g>

<!-- orange meter -->
<rect x="888.6" y="453" width="37" height="75.6" fill="#eb6c00"/>
<rect x="922" y="453" width="3.6" height="75.6" fill="#a24f10"/>

<!-- INVERTER -->
<g id="inverter">
<!-- hook -->
<circle cx="642.8" cy="292.2" r="2.6" fill="none" stroke="#888" stroke-width="1.3"/>
<!-- heat sink -->
<path d="M613.3,304 Q613.3,299.8 618,299.3 L628,297.5 V437.5 L613.3,434.5 Z" fill="#1f1f1f"/>
<g fill="none" stroke="#4a4a4a" stroke-width="0.8"><rect x="614.8" y="307.0" width="11" height="26" rx="2"/><path d="M615.5,308.0 L625.5,332.0 M625.5,308.0 L615.5,332.0"/><ellipse cx="620.3" cy="320.0" rx="4" ry="9"/><rect x="614.8" y="334.5" width="11" height="26" rx="2"/><path d="M615.5,335.5 L625.5,359.5 M625.5,335.5 L615.5,359.5"/><ellipse cx="620.3" cy="347.5" rx="4" ry="9"/><rect x="614.8" y="362.0" width="11" height="26" rx="2"/><path d="M615.5,363.0 L625.5,387.0 M625.5,363.0 L615.5,387.0"/><ellipse cx="620.3" cy="375.0" rx="4" ry="9"/></g>
<!-- side panel -->
<path d="M627,297.5 L651,293.5 V445 L627,441 Z" fill="url(#invSide)"/>
<rect x="628" y="365" width="7.5" height="38" fill="#dcdcdc"/><g fill="#9a9a9a"><rect x="629" y="368" width="5" height="0.8"/><rect x="629" y="372" width="5" height="0.8"/><rect x="629" y="376" width="5" height="0.8"/><rect x="629" y="380" width="5" height="0.8"/><rect x="629" y="384" width="5" height="0.8"/><rect x="629" y="392" width="5" height="6" fill="#555"/></g>
<!-- left foot -->
<path d="M616,436 L651,447 L668,447 L660,452 L660,469.5 L648,469.5 L615.5,455 Z" fill="#1c1c1c"/>
<path d="M623,449 L641,455 L641,463 L623,456 Z" fill="#fff"/>
<path d="M649,448 H660 V452 L656,455 V464 L660,465 V469.5 H648 Z" fill="#3a3a3a"/>
<!-- right foot -->
<path d="M762,434 L776,431.5 L793,430.3 V438.3 L779,438.8 L762,438.5 Z" fill="#1e1e1e"/>
<rect x="785" y="432" width="7" height="5" fill="#6a6a6a"/>
<path d="M792,429.5 L811,428.3 Q814,428.3 814,431.5 V441.5 Q814,443.8 811,443.8 L805,443.3 L792,438.5 Z" fill="#8e8e8e"/>
<path d="M793.5,431.5 L808.5,430.8 V437.8 L793.5,437.5 Z" fill="#fafafa"/>
<path d="M794,438.6 L809,438.2 V443 L806,443 Z" fill="#2a2a2a"/>
<!-- teeth -->
<g fill="#1a1a1a">
<rect x="676" y="444.5" width="2.8" height="5"/><rect x="682" y="444" width="2.8" height="5"/><rect x="688" y="443.5" width="2.8" height="5"/><rect x="694" y="443" width="2.8" height="5"/><rect x="700" y="442.5" width="2.8" height="5"/><rect x="706" y="442" width="2.8" height="5"/><rect x="716" y="441" width="2.8" height="5"/><rect x="722" y="440.5" width="2.8" height="5"/><rect x="728" y="440" width="2.8" height="5"/><rect x="734" y="439.5" width="2.8" height="5"/><rect x="740" y="439" width="2.8" height="5"/><rect x="750" y="437" width="4" height="3.5"/><rect x="762" y="434" width="8" height="4"/>
</g>
<!-- front face -->
<path d="M651,299 Q651,293.5 657,294.2 L811,313.6 Q817.5,314.5 817.5,321 V421 Q817.5,426.5 812,427 L657,445 Q651,445.6 651,440 Z" fill="url(#invFront)"/>
<line x1="779" y1="310" x2="779" y2="429" stroke="#bdbdbd" stroke-width="1"/>
<path d="M651,299 V440" stroke="#c9c9c9" stroke-width="1.5"/>
<!-- dark band -->
<path d="M688,316.5 L801,329.2 Q811.9,330.5 811.9,346.2 Q811.9,362.8 801,363.6 L688,360.5 Q665.5,360 665.5,338.5 Q665.5,316.8 688,316.5 Z" fill="#464646" stroke="#fafafa" stroke-width="1.2"/>
<path d="M779.7,326.6 L801,329.2 Q811.9,330.5 811.9,346.2 Q811.9,362.8 801,363.6 L779.7,362.8 Z" fill="#4a4a4a"/><line x1="779.7" y1="326.6" x2="779.7" y2="362.8" stroke="#222" stroke-width="0.9"/>
<ellipse cx="801.5" cy="346.2" rx="10.3" ry="15.5" fill="#141414"/><ellipse cx="801.5" cy="346.2" rx="8.6" ry="13.4" fill="#363636"/>
<path d="M796,351.5 A6.8,8.2 0 1 1 807,351.5" fill="none" stroke="#f0f0f0" stroke-width="1.4" stroke-dasharray="2.6,0.8"/><ellipse cx="801.5" cy="345.5" rx="4.6" ry="6.6" fill="#0c0c10"/><g fill="#ddd"><rect x="797" y="353" width="1" height="0.9"/><rect x="799.3" y="353" width="1" height="0.9"/><rect x="801.6" y="353" width="1" height="0.9"/><rect x="803.9" y="353" width="1" height="0.9"/><rect x="806" y="353" width="1" height="0.9"/></g>
<path d="M800.2,342.8 L802.6,341.6 V343 L801.2,343.8 Z M800,345 H803 V346.4 H800 Z M800.2,347.4 H802.8 V349 H800.2 Z" fill="#9acd32"/>
<text x="679.8" y="342.2" font-size="12.6" font-weight="bold" fill="#f2f2f2">G</text><text x="689.6" y="342.3" font-size="8.4" font-weight="bold" fill="#f2f2f2" textLength="21.2" lengthAdjust="spacingAndGlyphs">rowatt</text><rect x="690" y="333.8" width="21" height="0.6" fill="#8a8a8a"/>
<g fill="#333"><circle cx="663.5" cy="296.5" r="1"/><circle cx="725" cy="305.2" r="1"/><circle cx="774" cy="312" r="1"/><circle cx="785" cy="313.5" r="1"/><circle cx="663" cy="442.8" r="1"/><circle cx="724.7" cy="435" r="1"/><circle cx="774" cy="429" r="1"/><circle cx="785" cy="428" r="1"/></g>
</g>

<!-- TV -->
<g id="tv">
<!-- back legs -->
<path d="M275.5,790 H281.5 L280.5,813.5 H277.5 Z" fill="#1f7f88"/>
<path d="M374.5,790 H381 L384,813.5 H380.5 Z" fill="#1f7f88"/>
<!-- front legs -->
<path d="M268,790 H277.5 L272,823.5 H264.5 Z" fill="#3fa9b4"/>
<path d="M382,790 H390.5 L395,823.5 H387.5 Z" fill="#3fa9b4"/>
<rect x="257" y="688" width="144" height="102.7" rx="1.5" fill="#40a9b4"/>
<rect x="259.6" y="690.6" width="138.8" height="97.5" fill="none" stroke="#2b7f88" stroke-width="1"/>
<rect x="262.6" y="694" width="132.8" height="91.2" fill="none" stroke="#6cc6ce" stroke-width="1"/>
<!-- bezel -->
<rect x="266.4" y="697" width="102.6" height="85.5" rx="1.5" fill="#56b5be" stroke="#1f646c" stroke-width="1.1"/>
<path d="M267,697.5 H368.5 L363.6,704 H272 Z" fill="#3d9aa4"/>
<path d="M267,697.5 L272,704 V775 L267,782 Z" fill="#4aa9b2"/>
<path d="M368.5,697.5 L363.6,704 V775 L368.5,782 Z" fill="#4aa9b2"/>
<path d="M267,782 H368.5 L363.6,775 H272 Z" fill="#66bec6"/>
<!-- screen -->
<path d="M280,703.6 Q318,701.6 356,703.6 Q364,704 364,712 Q365.3,739.5 364,767 Q364,775 356,775.4 Q318,777.4 280,775.4 Q272,775 272,767 Q270.6,739.5 272,712 Q272,704 280,703.6 Z" fill="#eeefe3" stroke="#f6e8d8" stroke-width="0.6"/>
<!-- control panel -->
<rect x="373.5" y="697.7" width="19" height="77.6" rx="1.5" fill="#3ea6b1" stroke="#26767f" stroke-width="1"/>
<circle cx="378.5" cy="704.5" r="1.3" fill="#2a2a2a"/>
<rect x="381" y="704" width="7" height="1.2" fill="#2a2a2a"/>
<circle cx="383.5" cy="716.2" r="4.3" fill="#59bcc4"/>
<circle cx="383.5" cy="716.2" r="3.4" fill="#1b1b1b"/>
<circle cx="383.5" cy="729.4" r="4.3" fill="#59bcc4"/>
<circle cx="383.5" cy="729.4" r="3.4" fill="#1b1b1b"/>
<rect x="375.8" y="740" width="14.6" height="30.5" fill="#2d8d97"/>
<g fill="#4db0ba"><rect x="376" y="741.6" width="14" height="0.9"/><rect x="376" y="744.6" width="14" height="0.9"/><rect x="376" y="747.6" width="14" height="0.9"/><rect x="376" y="750.6" width="14" height="0.9"/><rect x="376" y="753.6" width="14" height="0.9"/><rect x="376" y="756.6" width="14" height="0.9"/><rect x="376" y="759.6" width="14" height="0.9"/><rect x="376" y="762.6" width="14" height="0.9"/><rect x="376" y="765.6" width="14" height="0.9"/></g>
</g>

<!-- WASHER -->
<g id="washer">
<rect x="475.5" y="668" width="118" height="157" fill="url(#wBody)"/>
<path d="M475.5,668 H593.5 V690 Q593,697 583,698.5 L500,698.5 Q482,697 475.5,690 Z" fill="#f1f2f3"/>
<rect x="475.5" y="667.5" width="118" height="5.6" fill="#f7f7f7"/>
<path d="M475.5,689.5 Q481,696.5 498,698 L582,698 Q592,697 593.5,690.5 V693.5 Q592,699.5 582,700.5 L498,700.5 Q481,699.5 475.5,692.5 Z" fill="#c6c9cc"/>
<line x1="504.6" y1="673" x2="504.6" y2="700" stroke="#b8babd" stroke-width="0.7"/>
<ellipse cx="490.2" cy="671.8" rx="7.4" ry="1.6" fill="#8a8c90"/>
<rect x="517.9" y="675" width="34" height="16.2" rx="2" fill="#151515"/>
<text x="528" y="685" font-size="6.5" fill="#e8e8e8">1:20</text>
<text x="529" y="690" font-size="3.2" fill="#bbb">Cotton</text>
<circle cx="535" cy="676.6" r="0.9" fill="#d33"/>
<g fill="#c4c6c9"><rect x="511.5" y="677" width="5" height="2"/><rect x="511.5" y="680.5" width="5" height="2"/><rect x="511.5" y="684" width="5" height="2"/><rect x="511.5" y="687.5" width="5" height="2"/><rect x="553" y="677" width="5" height="2"/><rect x="553" y="680.5" width="5" height="2"/><rect x="553" y="684" width="5" height="2"/><rect x="553" y="687.5" width="5" height="2"/><rect x="587.5" y="676" width="3.5" height="10"/></g>
<circle cx="574" cy="682.4" r="7.8" fill="#8c8c8e"/>
<circle cx="574" cy="682.4" r="6.6" fill="#f4f4f4"/>
<circle cx="574" cy="682.4" r="5.2" fill="#e6e6e8" stroke="#c9c9cb" stroke-width="0.6"/>
<g fill="#6a6a6c"><circle cx="556" cy="692.5" r="0.8"/><circle cx="560" cy="692.5" r="0.8"/><circle cx="564" cy="692.5" r="0.8"/><circle cx="568" cy="692.5" r="0.8"/></g>
<!-- door -->
<circle cx="535" cy="752" r="45.4" fill="#eceef0" stroke="#d6d9dc" stroke-width="0.8"/>
<circle cx="535" cy="752" r="36.5" fill="#f7f8f9" stroke="#e2e4e6" stroke-width="0.8"/>
<clipPath id="glassClip"><path d="M480,700 H590 V800 H480 Z M566,735 Q556,752 566,770 L600,770 V735 Z" clip-rule="evenodd"/></clipPath>
<g clip-path="url(#glassClip)">
<circle cx="534.5" cy="751.8" r="32" fill="#222327"/>
<circle cx="534.5" cy="751.8" r="28.5" fill="#2e3036"/>
<circle cx="534.5" cy="751.8" r="25.5" fill="none" stroke="#66686c" stroke-width="1.6"/>
<circle cx="534.5" cy="751.8" r="22.5" fill="#252830"/>
<path d="M514,742 Q534,754 555,742" fill="none" stroke="#7a7c80" stroke-width="1.6"/>
<path d="M525,774 Q536,760 523,746" fill="none" stroke="#5e6064" stroke-width="1.5"/>
<path d="M547,774 Q533,760 546,746" fill="none" stroke="#5e6064" stroke-width="1.5"/>
<path d="M512,758 A23,23 0 0 0 556,760" fill="none" stroke="#45474c" stroke-width="2"/>
</g>
<rect x="475.5" y="805" width="118" height="1.6" fill="#abadb0"/>
<rect x="475.5" y="806.6" width="118" height="1.2" fill="#f4f5f6"/>
</g>

<!-- PHONE -->
<g id="phone">
<rect x="688" y="679" width="48" height="120.8" rx="8" fill="url(#phBack)"/>
<rect x="691.8" y="682.7" width="30.6" height="32.7" rx="6" fill="#3f3a50"/>
<circle cx="699.3" cy="690.2" r="5" fill="#141418" stroke="#4a4558" stroke-width="0.8"/>
<circle cx="699.3" cy="706.7" r="5" fill="#141418" stroke="#4a4558" stroke-width="0.8"/>
<circle cx="714.3" cy="698.6" r="5.4" fill="#141418" stroke="#8a8494" stroke-width="1"/>
<circle cx="699.3" cy="690.2" r="1.5" fill="#2a4560"/>
<circle cx="699.3" cy="706.7" r="1.5" fill="#2a4560"/>
<circle cx="714.3" cy="698.6" r="1.6" fill="#2a4560"/>
<circle cx="714" cy="687.5" r="2.3" fill="#d8d4d4"/>
<circle cx="714" cy="709.7" r="2.3" fill="#1e1c24"/>
<!-- apple logo -->
<path d="M716.5,733.5 Q716.8,731 719.2,730.5 Q719,733 716.5,733.5 Z M718,734.8 Q720,733.6 721.8,734.8 Q723,735.4 723.6,736.6 Q721.6,737.8 721.9,740.4 Q722.2,742.6 724,743.3 Q723.2,745.6 721.8,746.8 Q720.8,747.6 719.6,747 Q718.3,746.3 717,747 Q715.6,747.7 714.6,746.4 Q712.4,743.6 712.2,740.6 Q712,737.2 714.2,735.4 Q716,734 718,734.8 Z" fill="#3a3346"/>
<!-- front -->
<rect x="727.9" y="679.2" width="57.2" height="120.3" rx="8.5" fill="#0a0a0a"/>
<clipPath id="scrClip"><rect x="729.9" y="681.5" width="53.3" height="116" rx="6.5"/></clipPath>
<g clip-path="url(#scrClip)">
<rect x="729.9" y="681.5" width="53.3" height="116" fill="#000"/>
<path d="M729.9,681.5 H783.2 V712.5 A26.65,26.65 0 0 1 729.9,712.5 Z" fill="url(#scrTop)"/>
<path d="M729.9,681.5 H783.2 V712.5 A26.65,26.65 0 0 1 729.9,712.5 Z" fill="url(#scrTopR)"/>
<path d="M729.9,766 A26.65,26.65 0 0 1 783.2,766 V797.5 H729.9 Z" fill="url(#scrBot)"/>
<path d="M729.9,766 A26.65,26.65 0 0 1 783.2,766 V797.5 H729.9 Z" fill="url(#scrBotR)"/>
<path d="M730.45,712.5 A26.1,26.1 0 0 0 782.65,712.5" fill="none" stroke="#c080d0" stroke-width="0.6" opacity="0.8"/>
<path d="M730.45,766 A26.1,26.1 0 0 1 782.65,766" fill="none" stroke="#8898a8" stroke-width="0.6" opacity="0.8"/>
</g>
<rect x="748" y="683.4" width="17" height="4.6" rx="2.3" fill="#050505"/>
</g>

<!-- TEXT -->
<text x="639.6" y="220.5" font-size="25" fill="#084a95" stroke="#fff" stroke-width="0.3" textLength="119.6" lengthAdjust="spacingAndGlyphs">Solar Panel</text>
<text x="507.2" y="557.7" font-size="24.3" fill="#084a95" stroke="#fff" stroke-width="0.3" textLength="52.3" lengthAdjust="spacingAndGlyphs">Load</text>

<!-- SOLAR PANEL -->
<g id="panel" transform="translate(393.2,111) skewX(-13.35)">
<rect x="0" y="0" width="260.5" height="129" fill="#1a1a1a"/>
<rect x="4.5" y="5.6" width="251.5" height="118" fill="#f4f4f4"/>
<g id="cells"><path fill="#1a1a1a" stroke="#1a1a1a" stroke-width="0.6" stroke-linejoin="round" d="M12.05,9.55h8.20l3.40,3.40v8.10l-3.40,3.40h-8.20l-3.40,-3.40v-8.10zM31.18,9.55h8.20l3.40,3.40v8.10l-3.40,3.40h-8.20l-3.40,-3.40v-8.10zM50.31,9.55h8.20l3.40,3.40v8.10l-3.40,3.40h-8.20l-3.40,-3.40v-8.10zM69.44,9.55h8.20l3.40,3.40v8.10l-3.40,3.40h-8.20l-3.40,-3.40v-8.10zM88.57,9.55h8.20l3.40,3.40v8.10l-3.40,3.40h-8.20l-3.40,-3.40v-8.10zM107.70,9.55h8.20l3.40,3.40v8.10l-3.40,3.40h-8.20l-3.40,-3.40v-8.10zM126.83,9.55h8.20l3.40,3.40v8.10l-3.40,3.40h-8.20l-3.40,-3.40v-8.10zM145.96,9.55h8.20l3.40,3.40v8.10l-3.40,3.40h-8.20l-3.40,-3.40v-8.10zM165.09,9.55h8.20l3.40,3.40v8.10l-3.40,3.40h-8.20l-3.40,-3.40v-8.10zM184.22,9.55h8.20l3.40,3.40v8.10l-3.40,3.40h-8.20l-3.40,-3.40v-8.10zM203.35,9.55h8.20l3.40,3.40v8.10l-3.40,3.40h-8.20l-3.40,-3.40v-8.10zM222.48,9.55h8.20l3.40,3.40v8.10l-3.40,3.40h-8.20l-3.40,-3.40v-8.10zM241.61,9.55h8.20l3.40,3.40v8.10l-3.40,3.40h-8.20l-3.40,-3.40v-8.10zM12.05,27.95h8.20l3.40,3.40v8.10l-3.40,3.40h-8.20l-3.40,-3.40v-8.10zM31.18,27.95h8.20l3.40,3.40v8.10l-3.40,3.40h-8.20l-3.40,-3.40v-8.10zM50.31,27.95h8.20l3.40,3.40v8.10l-3.40,3.40h-8.20l-3.40,-3.40v-8.10zM69.44,27.95h8.20l3.40,3.40v8.10l-3.40,3.40h-8.20l-3.40,-3.40v-8.10zM88.57,27.95h8.20l3.40,3.40v8.10l-3.40,3.40h-8.20l-3.40,-3.40v-8.10zM107.70,27.95h8.20l3.40,3.40v8.10l-3.40,3.40h-8.20l-3.40,-3.40v-8.10zM126.83,27.95h8.20l3.40,3.40v8.10l-3.40,3.40h-8.20l-3.40,-3.40v-8.10zM145.96,27.95h8.20l3.40,3.40v8.10l-3.40,3.40h-8.20l-3.40,-3.40v-8.10zM165.09,27.95h8.20l3.40,3.40v8.10l-3.40,3.40h-8.20l-3.40,-3.40v-8.10zM184.22,27.95h8.20l3.40,3.40v8.10l-3.40,3.40h-8.20l-3.40,-3.40v-8.10zM203.35,27.95h8.20l3.40,3.40v8.10l-3.40,3.40h-8.20l-3.40,-3.40v-8.10zM222.48,27.95h8.20l3.40,3.40v8.10l-3.40,3.40h-8.20l-3.40,-3.40v-8.10zM241.61,27.95h8.20l3.40,3.40v8.10l-3.40,3.40h-8.20l-3.40,-3.40v-8.10zM12.05,46.35h8.20l3.40,3.40v8.10l-3.40,3.40h-8.20l-3.40,-3.40v-8.10zM31.18,46.35h8.20l3.40,3.40v8.10l-3.40,3.40h-8.20l-3.40,-3.40v-8.10zM50.31,46.35h8.20l3.40,3.40v8.10l-3.40,3.40h-8.20l-3.40,-3.40v-8.10zM69.44,46.35h8.20l3.40,3.40v8.10l-3.40,3.40h-8.20l-3.40,-3.40v-8.10zM88.57,46.35h8.20l3.40,3.40v8.10l-3.40,3.40h-8.20l-3.40,-3.40v-8.10zM107.70,46.35h8.20l3.40,3.40v8.10l-3.40,3.40h-8.20l-3.40,-3.40v-8.10zM126.83,46.35h8.20l3.40,3.40v8.10l-3.40,3.40h-8.20l-3.40,-3.40v-8.10zM145.96,46.35h8.20l3.40,3.40v8.10l-3.40,3.40h-8.20l-3.40,-3.40v-8.10zM165.09,46.35h8.20l3.40,3.40v8.10l-3.40,3.40h-8.20l-3.40,-3.40v-8.10zM184.22,46.35h8.20l3.40,3.40v8.10l-3.40,3.40h-8.20l-3.40,-3.40v-8.10zM203.35,46.35h8.20l3.40,3.40v8.10l-3.40,3.40h-8.20l-3.40,-3.40v-8.10zM222.48,46.35h8.20l3.40,3.40v8.10l-3.40,3.40h-8.20l-3.40,-3.40v-8.10zM241.61,46.35h8.20l3.40,3.40v8.10l-3.40,3.40h-8.20l-3.40,-3.40v-8.10zM12.05,64.75h8.20l3.40,3.40v8.10l-3.40,3.40h-8.20l-3.40,-3.40v-8.10zM31.18,64.75h8.20l3.40,3.40v8.10l-3.40,3.40h-8.20l-3.40,-3.40v-8.10zM50.31,64.75h8.20l3.40,3.40v8.10l-3.40,3.40h-8.20l-3.40,-3.40v-8.10zM69.44,64.75h8.20l3.40,3.40v8.10l-3.40,3.40h-8.20l-3.40,-3.40v-8.10zM88.57,64.75h8.20l3.40,3.40v8.10l-3.40,3.40h-8.20l-3.40,-3.40v-8.10zM107.70,64.75h8.20l3.40,3.40v8.10l-3.40,3.40h-8.20l-3.40,-3.40v-8.10zM126.83,64.75h8.20l3.40,3.40v8.10l-3.40,3.40h-8.20l-3.40,-3.40v-8.10zM145.96,64.75h8.20l3.40,3.40v8.10l-3.40,3.40h-8.20l-3.40,-3.40v-8.10zM165.09,64.75h8.20l3.40,3.40v8.10l-3.40,3.40h-8.20l-3.40,-3.40v-8.10zM184.22,64.75h8.20l3.40,3.40v8.10l-3.40,3.40h-8.20l-3.40,-3.40v-8.10zM203.35,64.75h8.20l3.40,3.40v8.10l-3.40,3.40h-8.20l-3.40,-3.40v-8.10zM222.48,64.75h8.20l3.40,3.40v8.10l-3.40,3.40h-8.20l-3.40,-3.40v-8.10zM241.61,64.75h8.20l3.40,3.40v8.10l-3.40,3.40h-8.20l-3.40,-3.40v-8.10zM12.05,83.15h8.20l3.40,3.40v8.10l-3.40,3.40h-8.20l-3.40,-3.40v-8.10zM31.18,83.15h8.20l3.40,3.40v8.10l-3.40,3.40h-8.20l-3.40,-3.40v-8.10zM50.31,83.15h8.20l3.40,3.40v8.10l-3.40,3.40h-8.20l-3.40,-3.40v-8.10zM69.44,83.15h8.20l3.40,3.40v8.10l-3.40,3.40h-8.20l-3.40,-3.40v-8.10zM88.57,83.15h8.20l3.40,3.40v8.10l-3.40,3.40h-8.20l-3.40,-3.40v-8.10zM107.70,83.15h8.20l3.40,3.40v8.10l-3.40,3.40h-8.20l-3.40,-3.40v-8.10zM126.83,83.15h8.20l3.40,3.40v8.10l-3.40,3.40h-8.20l-3.40,-3.40v-8.10zM145.96,83.15h8.20l3.40,3.40v8.10l-3.40,3.40h-8.20l-3.40,-3.40v-8.10zM165.09,83.15h8.20l3.40,3.40v8.10l-3.40,3.40h-8.20l-3.40,-3.40v-8.10zM184.22,83.15h8.20l3.40,3.40v8.10l-3.40,3.40h-8.20l-3.40,-3.40v-8.10zM203.35,83.15h8.20l3.40,3.40v8.10l-3.40,3.40h-8.20l-3.40,-3.40v-8.10zM222.48,83.15h8.20l3.40,3.40v8.10l-3.40,3.40h-8.20l-3.40,-3.40v-8.10zM241.61,83.15h8.20l3.40,3.40v8.10l-3.40,3.40h-8.20l-3.40,-3.40v-8.10zM12.05,101.55h8.20l3.40,3.40v8.10l-3.40,3.40h-8.20l-3.40,-3.40v-8.10zM31.18,101.55h8.20l3.40,3.40v8.10l-3.40,3.40h-8.20l-3.40,-3.40v-8.10zM50.31,101.55h8.20l3.40,3.40v8.10l-3.40,3.40h-8.20l-3.40,-3.40v-8.10zM69.44,101.55h8.20l3.40,3.40v8.10l-3.40,3.40h-8.20l-3.40,-3.40v-8.10zM88.57,101.55h8.20l3.40,3.40v8.10l-3.40,3.40h-8.20l-3.40,-3.40v-8.10zM107.70,101.55h8.20l3.40,3.40v8.10l-3.40,3.40h-8.20l-3.40,-3.40v-8.10zM126.83,101.55h8.20l3.40,3.40v8.10l-3.40,3.40h-8.20l-3.40,-3.40v-8.10zM145.96,101.55h8.20l3.40,3.40v8.10l-3.40,3.40h-8.20l-3.40,-3.40v-8.10zM165.09,101.55h8.20l3.40,3.40v8.10l-3.40,3.40h-8.20l-3.40,-3.40v-8.10zM184.22,101.55h8.20l3.40,3.40v8.10l-3.40,3.40h-8.20l-3.40,-3.40v-8.10zM203.35,101.55h8.20l3.40,3.40v8.10l-3.40,3.40h-8.20l-3.40,-3.40v-8.10zM222.48,101.55h8.20l3.40,3.40v8.10l-3.40,3.40h-8.20l-3.40,-3.40v-8.10zM241.61,101.55h8.20l3.40,3.40v8.10l-3.40,3.40h-8.20l-3.40,-3.40v-8.10z"/></g>
</g>

</svg>
</body></html>
